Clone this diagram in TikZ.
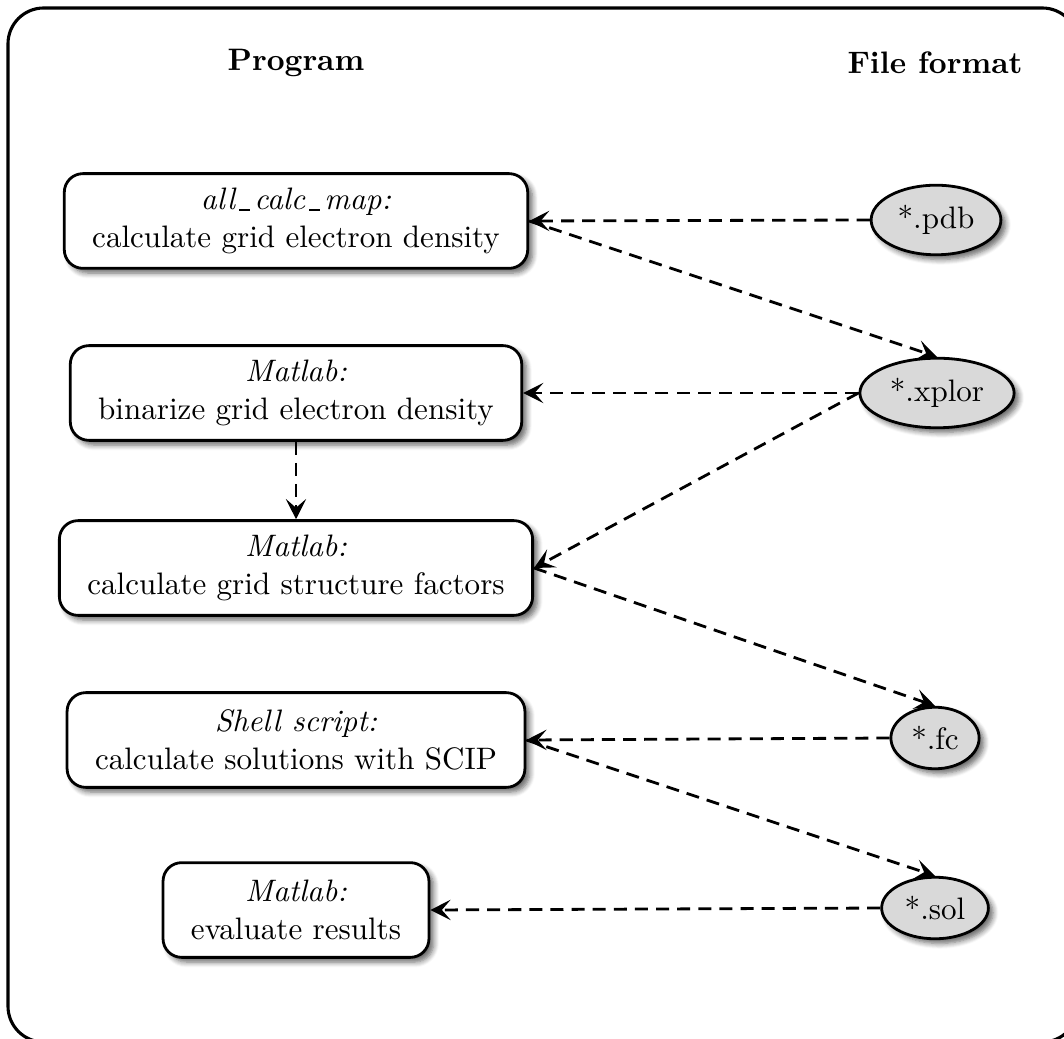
\documentclass[tikz,border=0pt]{standalone}
\usetikzlibrary{shapes.geometric,arrows.meta,shadows.blur}
% underscore as a short bar on the baseline
\newcommand{\lowbar}{\kern.13em\rule[-0.3pt]{0.36em}{0.7pt}\kern.13em}
\begin{document}
\begin{tikzpicture}[x=0.322pt,y=-0.322pt,
  prog/.style={draw,line width=0.9pt,rounded corners=6pt,fill=white,align=center,
    inner xsep=9pt,minimum height=30.5pt,
    blur shadow={shadow xshift=1.5pt,shadow yshift=-1.5pt,shadow blur steps=6,shadow opacity=60}},
  fmt/.style={ellipse,draw,line width=0.9pt,fill=gray!30,inner xsep=2.4pt,inner ysep=3.2pt,
    blur shadow={shadow xshift=1.5pt,shadow yshift=-1.5pt,shadow blur steps=6,shadow opacity=60}},
  flow/.style={line width=0.9pt,dash pattern=on 4.2pt off 2.6pt,
    -{Stealth[length=6.5pt,width=6.5pt,inset=2.8pt]}},
  head/.style={font=\bfseries}
]
\useasboundingbox (0,0) rectangle (1064,1039);
% outer frame
\draw[line width=1pt,rounded corners=11.5pt] (8,8) rectangle (1078,1042);

% column headings
\node[head] (hprog) at (296,63) {Program};
\node[head] (hfmt) at (935,63) {File format};

% programs
\node[prog] (calc) at (296,221) {\textit{all\lowbar calc\lowbar map:}\\calculate grid electron density};
\node[prog] (bin) at (296,393) {\textit{Matlab:}\\binarize grid electron density};
\node[prog] (sf) at (296,568) {\textit{Matlab:}\\calculate grid structure factors};
\node[prog] (scip) at (296,740) {\textit{Shell script:}\\calculate solutions with SCIP};
\node[prog] (eval) at (296,910) {\textit{Matlab:}\\evaluate results};

% file formats
\node[fmt] (pdb) at (936,220) {*.pdb};
\node[fmt] (xplor) at (937,393) {*.xplor};
\node[fmt] (fc) at (935,738) {*.fc};
\node[fmt] (sol) at (935,908) {*.sol};

% data flow
\draw[flow] (pdb.west) -- (calc.east);
\draw[flow] (calc.east) -- (xplor.north);
\draw[flow] (xplor.west) -- (bin.east);
\draw[flow] (xplor.west) -- (sf.east);
\draw[flow] (bin.south) -- (sf.north);
\draw[flow] (sf.east) -- (fc.north);
\draw[flow] (fc.west) -- (scip.east);
\draw[flow] (scip.east) -- (sol.north);
\draw[flow] (sol.west) -- (eval.east);
\end{tikzpicture}
\end{document}
